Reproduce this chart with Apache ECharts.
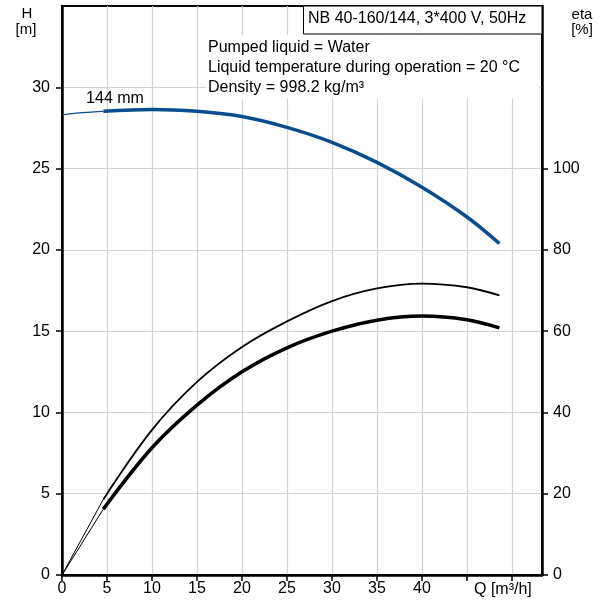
<!DOCTYPE html>
<html>
<head>
<meta charset="utf-8">
<script src="https://cdn.jsdelivr.net/npm/echarts@6/dist/echarts.min.js"></script>
<style>
html,body{margin:0;padding:0;background:#fff;}
#chart{width:608px;height:601px;}
</style>
</head>
<body>
<div id="chart"></div>
<script>
// ---- data ----
var qHeadExt = [0, 2.3, 4.6];
var hHeadExt = [28.31, 28.44, 28.52];
var qHead = [4.6, 10, 15, 20, 25, 30, 35, 40, 45, 48.6];
var hHead = [28.52, 28.64, 28.52, 28.2, 27.53, 26.61, 25.38, 23.85, 22.02, 20.39];

var qEtaExt = [0, 4.59];
var etaPumpExt = [0, 18.6];
var etaTotalExt = [0, 16.2];
var qEta = [4.59, 10, 15, 20, 25, 30, 35, 40, 45, 48.6];
var etaPump = [18.6, 35.7, 47.5, 56.1, 62.4, 67.4, 70.5, 71.7, 70.8, 68.8];
var etaTotal = [16.2, 31.3, 41.8, 50.0, 55.9, 60.0, 62.7, 63.7, 62.8, 60.8];

var qTicks = [0, 5, 10, 15, 20, 25, 30, 35, 40, 45, 50];
var qLabels = [0, 5, 10, 15, 20, 25, 30, 35, 40];
var hTicks = [0, 5, 10, 15, 20, 25, 30];
var etaTicks = [0, 20, 40, 60, 80, 100];

var titleText = 'NB 40-160/144, 3*400 V, 50Hz';
var infoLines = ['Pumped liquid = Water', 'Liquid temperature during operation = 20 \u00B0C', 'Density = 998.2 kg/m\u00B3'];
var curveLabel = '144 mm';

function zip(a, b) { return a.map(function (v, i) { return [v, b[i]]; }); }

var FONT = 'Liberation Sans, Arial, sans-serif';
var BLUE = '#0a4d8c';
var GRID = '#cfd3d7';
var SM = 0.35;

var chart = echarts.init(document.getElementById('chart'), null, {renderer: 'canvas'});
var lbl = {color: '#000', fontSize: 16, fontFamily: FONT};

chart.setOption({
  animation: false,
  backgroundColor: '#fff',
  grid: {left: 62, right: 66, top: 6, bottom: 26, show: true, borderColor: '#000', borderWidth: 2, backgroundColor: 'transparent'},
  xAxis: {
    type: 'value', min: 0, max: 53.333, interval: 5,
    axisLine: {show: true, onZero: false, lineStyle: {color: '#000', width: 2.5}},
    axisTick: {show: true, length: 6, lineStyle: {color: '#000', width: 1.5}, customValues: qTicks},
    axisLabel: Object.assign({margin: 6, customValues: qLabels, formatter: function (v) { return v <= 40 ? String(v) : ''; }}, lbl),
    splitLine: {show: true, lineStyle: {color: GRID, width: 1.2}}
  },
  yAxis: [{
    type: 'value', min: 0, max: 35, interval: 5, position: 'left',
    axisLine: {show: true, onZero: false, lineStyle: {color: '#000', width: 2.5}},
    axisTick: {show: true, length: 6, lineStyle: {color: '#000', width: 1.5}, customValues: hTicks},
    axisLabel: Object.assign({margin: 12, customValues: hTicks, formatter: function (v) { return v <= 30 ? String(v) : ''; }}, lbl),
    splitLine: {show: true, lineStyle: {color: GRID, width: 1.2}}
  }, {
    type: 'value', min: 0, max: 140, interval: 20, position: 'right',
    axisLine: {show: true, onZero: false, lineStyle: {color: '#000', width: 2.5}},
    axisTick: {show: true, length: 6, lineStyle: {color: '#000', width: 1.5}, customValues: etaTicks},
    axisLabel: Object.assign({margin: 11, customValues: etaTicks, formatter: function (v) { return v <= 100 ? String(v) : ''; }}, lbl),
    splitLine: {show: false}
  }],
  series: [
    {type: 'line', data: zip(qHeadExt, hHeadExt), smooth: SM, showSymbol: false, lineStyle: {color: BLUE, width: 1.2}, z: 5},
    {type: 'line', data: zip(qHead, hHead), smooth: SM, showSymbol: false, lineStyle: {color: BLUE, width: 3.5}, z: 5},
    {type: 'line', yAxisIndex: 1, data: zip(qEtaExt, etaPumpExt), showSymbol: false, lineStyle: {color: '#000', width: 1}, z: 4},
    {type: 'line', yAxisIndex: 1, data: zip(qEta, etaPump), smooth: SM, showSymbol: false, lineStyle: {color: '#000', width: 1.8}, z: 4},
    {type: 'line', yAxisIndex: 1, data: zip(qEtaExt, etaTotalExt), showSymbol: false, lineStyle: {color: '#000', width: 1}, z: 4},
    {type: 'line', yAxisIndex: 1, data: zip(qEta, etaTotal), smooth: SM, showSymbol: false, lineStyle: {color: '#000', width: 3.5}, z: 4}
  ],
  graphic: [
    {type: 'rect', shape: {x: 205, y: 35, width: 334, height: 64}, style: {fill: '#fff'}, z: 1},
    {type: 'text', x: 208, y: 48, style: {text: infoLines[0], font: '16px ' + FONT, fill: '#000', verticalAlign: 'middle'}, z: 10},
    {type: 'text', x: 208, y: 68, style: {text: infoLines[1], font: '16px ' + FONT, fill: '#000', verticalAlign: 'middle'}, z: 10},
    {type: 'text', x: 208, y: 88, style: {text: infoLines[2], font: '16px ' + FONT, fill: '#000', verticalAlign: 'middle'}, z: 10},
    {type: 'rect', shape: {x: 303.5, y: 6, width: 238.5, height: 28}, style: {fill: '#fff', stroke: '#000', lineWidth: 1}, z: 10},
    {type: 'text', x: 308, y: 19, style: {text: titleText, font: '16px ' + FONT, fill: '#000', verticalAlign: 'middle'}, z: 11},
    {type: 'text', x: 115, y: 99, style: {text: curveLabel, font: '16px ' + FONT, fill: '#000', align: 'center', verticalAlign: 'middle'}, z: 10},
    {type: 'text', x: 27, y: 14, style: {text: 'H', font: '15px ' + FONT, fill: '#000', align: 'center', verticalAlign: 'middle'}, z: 10},
    {type: 'text', x: 26, y: 30, style: {text: '[m]', font: '15px ' + FONT, fill: '#000', align: 'center', verticalAlign: 'middle'}, z: 10},
    {type: 'text', x: 582, y: 15, style: {text: 'eta', font: '15px ' + FONT, fill: '#000', align: 'center', verticalAlign: 'middle'}, z: 10},
    {type: 'text', x: 582, y: 30, style: {text: '[%]', font: '15px ' + FONT, fill: '#000', align: 'center', verticalAlign: 'middle'}, z: 10},
    {type: 'text', x: 474, y: 590, style: {text: 'Q [m\u00B3/h]', font: '16px ' + FONT, fill: '#000', verticalAlign: 'middle'}, z: 10}
  ]
});
</script>
</body>
</html>
